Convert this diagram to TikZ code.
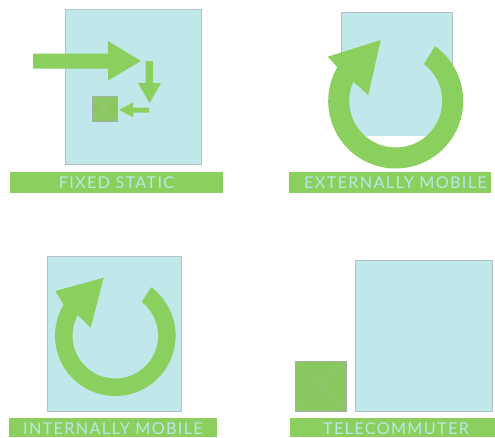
\documentclass[tikz,border=0pt]{standalone}
\usepackage{fontspec}
\setmainfont[LetterSpace=8]{Lato}
\definecolor{grn}{HTML}{8BD05F}
\definecolor{boxgrn}{HTML}{8AC75E}
\definecolor{pale}{HTML}{C0E8EB}
\definecolor{edge}{HTML}{B2C2C6}
\definecolor{labeltxt}{HTML}{BDE6E6}
\tikzset{
  panel/.style={fill=pale,draw=edge,line width=0.65pt},
  shape green/.style={fill=grn,draw=none},
  labelbar/.style={fill=grn,draw=none},
  labeltext/.style={text=labeltxt,font=\fontsize{12.2}{13}\selectfont,inner sep=0pt,anchor=center},
  workbox/.style={fill=boxgrn,draw=edge!70!gray,line width=0.6pt},
  workcross/.style={draw=edge!45!boxgrn,line width=0.3pt}
}
\begin{document}
\begin{tikzpicture}[x=0.75pt,y=-0.75pt]
\useasboundingbox (0,0) rectangle (495,437);
% --- Fixed static
\draw[panel] (65.5,9.5) rectangle (201.5,164);
\fill[shape green] (33,53.5) -- (108,53.5) -- (108,41) -- (141,61) -- (108,80.5) -- (108,68.5) -- (33,68.5) -- cycle;
\fill[shape green] (145.5,61) -- (153,61) -- (153,83) -- (161,83) -- (149.5,103) -- (138,83) -- (145.5,83) -- cycle;
\fill[shape green] (149,107.5) -- (133,107.5) -- (133,102.5) -- (119,110) -- (133,117) -- (133,112.5) -- (149,112.5) -- cycle;
\draw[workbox] (92,96) rectangle (117,121);
\draw[workcross] (92,96) -- (117,121) (117,96) -- (92,121);
\fill[labelbar] (10,172) rectangle (223,193);
\node[labeltext] (fixed) at (116.5,182.5) {FIXED STATIC};
% --- Externally mobile
\fill[pale] (341,12) rectangle (452,136);
\draw[edge,line width=0.65pt] (341,136) -- (341,12) -- (452,12) -- (452,136);
\fill[shape green] plot[domain=-54.3:210.1,samples=70] ({395.7+67.5*cos(\x)},{101+67.5*sin(\x)})
  -- (327.7,56.7) -- (380.7,40) -- (368.3,95) -- (353.3,81.7)
  -- plot[domain=204.5:-52.5,samples=70] ({395.7+46.5*cos(\x)},{101+46.5*sin(\x)}) -- cycle;
\fill[labelbar] (289,172) rectangle (491,193);
\node[labeltext] (external) at (395.5,182.5) {EXTERNALLY MOBILE};
% --- Internally mobile
\draw[panel] (47.7,256) rectangle (181,411.5);
\fill[shape green] plot[domain=-53.5:211,samples=70] ({115.3+60.3*cos(\x)},{335.7+60.3*sin(\x)})
  -- (55.3,291) -- (103.7,277.7) -- (90.7,327.7) -- (77.7,315)
  -- plot[domain=208:-52,samples=70] ({115.3+42.8*cos(\x)},{335.7+42.8*sin(\x)}) -- cycle;
\fill[labelbar] (9,418) rectangle (217,437);
\node[labeltext] (internal) at (113,428.5) {INTERNALLY MOBILE};
% --- Telecommuter
\draw[panel] (355.7,260.7) rectangle (492.3,411.3);
\draw[workbox] (295.3,361.7) rectangle (346,411.3);
\draw[workcross] (295.3,361.7) -- (346,411.3) (346,361.7) -- (295.3,411.3);
\fill[labelbar] (290,418) rectangle (495,437);
\node[labeltext] (tele) at (396,428.5) {TELECOMMUTER};
\end{tikzpicture}
\end{document}
